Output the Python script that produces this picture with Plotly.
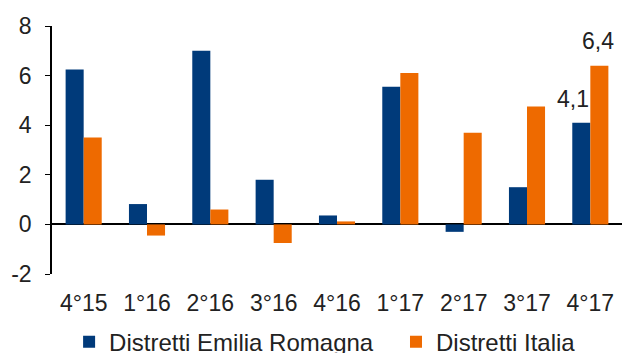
import plotly.graph_objects as go

# Quarterly values for the two district groups
quarters = ["4°15", "1°16", "2°16", "3°16", "4°16", "1°17", "2°17", "3°17", "4°17"]
emilia_romagna = [6.25, 0.82, 7.0, 1.8, 0.36, 5.55, -0.3, 1.5, 4.1]
italia = [3.5, -0.45, 0.6, -0.75, 0.12, 6.1, 3.7, 4.75, 6.4]

# Y axis ticks, written with a plain hyphen for negatives
y_ticks = [-2, 0, 2, 4, 6, 8]
y_tick_labels = ["-2", "0", "2", "4", "6", "8"]

# Values written above the last pair of bars
label_er = "4,1"
label_it = "6,4"

BLUE = "#003A7A"
ORANGE = "#EE6A00"
FONT = "Liberation Sans, Arial, sans-serif"
FS = 23

fig = go.Figure()
fig.add_trace(go.Bar(
    x=quarters, y=emilia_romagna, name="Distretti Emilia Romagna",
    marker=dict(color=BLUE, line=dict(width=0)), legend="legend",
))
fig.add_trace(go.Bar(
    x=quarters, y=italia, name="Distretti Italia",
    marker=dict(color=ORANGE, line=dict(width=0)), legend="legend2",
))

fig.add_annotation(x=quarters[-1], y=emilia_romagna[-1], text=label_er,
                   showarrow=False, xshift=-17, yshift=24,
                   font=dict(size=FS, color="#222222", family=FONT))
fig.add_annotation(x=quarters[-1], y=italia[-1], text=label_it,
                   showarrow=False, xshift=8, yshift=25,
                   font=dict(size=FS, color="#222222", family=FONT))

legend_style = dict(orientation="h", y=-0.184, xanchor="left", yanchor="top",
                    font=dict(size=24, color="#222222"),
                    itemwidth=30, bgcolor="rgba(0,0,0,0)")

fig.update_layout(
    width=622, height=353,
    margin=dict(l=52, r=0, t=26, b=79, autoexpand=False),
    paper_bgcolor="white", plot_bgcolor="white",
    barmode="group", bargap=0.43, bargroupgap=0,
    font=dict(family=FONT, size=FS, color="#222222"),
    showlegend=True,
    legend=dict(x=0.03, **legend_style),
    legend2=dict(x=0.6035, **legend_style),
    xaxis=dict(showline=False, ticks="", showgrid=False, zeroline=False,
               range=[-0.5, 8.5], tickfont=dict(size=FS), ticklabelstandoff=13),
    yaxis=dict(range=[-2, 8], tickmode="array", tickvals=y_ticks,
               ticktext=y_tick_labels, showgrid=False, showline=True,
               linecolor="black", linewidth=1.5, ticks="outside", ticklen=5,
               tickcolor="black", zeroline=True, zerolinecolor="black",
               zerolinewidth=1.5, tickfont=dict(size=FS), ticklabelstandoff=9),
)

fig.write_html("out.html")
